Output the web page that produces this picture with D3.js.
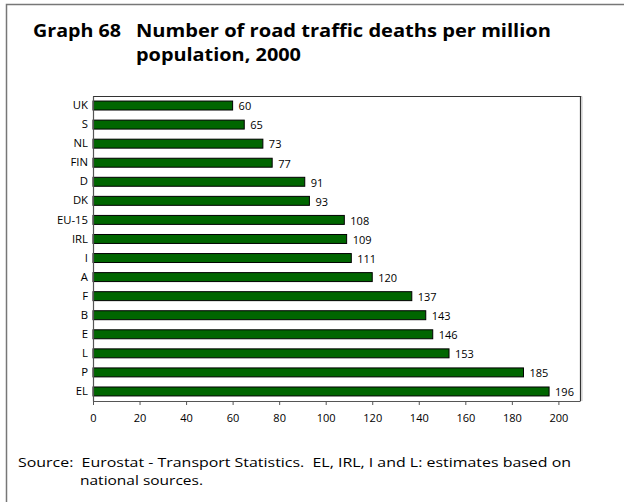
<!DOCTYPE html>
<html>
<head>
<meta charset="utf-8">
<script src="https://cdn.jsdelivr.net/npm/d3@7/dist/d3.min.js"></script>
<style>
  html, body { margin: 0; padding: 0; background: #fff; }
  svg { display: block; }
  text { font-family: "Open Sans", "DejaVu Sans", sans-serif; }
</style>
</head>
<body>
<svg id="chart" width="624" height="502"></svg>
<script>
const categories = ["UK", "S", "NL", "FIN", "D", "DK", "EU-15", "IRL", "I", "A", "F", "B", "E", "L", "P", "EL"];
const values = [60, 65, 73, 77, 91, 93, 108, 109, 111, 120, 137, 143, 146, 153, 185, 196];
const xTicks = [0, 20, 40, 60, 80, 100, 120, 140, 160, 180, 200];
const titleLabel = "Graph 68";
const titleLines = ["Number of road traffic deaths per million", "population, 2000"];
const sourceLines = ["Source:  Eurostat - Transport Statistics.  EL, IRL, I and L: estimates based on", "national sources."];

(function () {
const svg = d3.select("#chart");

// outer frame (cropped at right/bottom)
svg.append("path")
  .attr("d", "M6.5,502 L6.5,4.5 L624,4.5")
  .attr("fill", "none").attr("stroke", "#777").attr("stroke-width", 1.5);

// fit text to a target width
function fit(sel, w) {
  sel.attr("textLength", w).attr("lengthAdjust", "spacingAndGlyphs");
  return sel;
}

// title
fit(svg.append("text").attr("x", 33).attr("y", 37)
  .attr("font-size", 18).attr("font-weight", "bold").attr("fill", "#000")
  .text(titleLabel), 88);
fit(svg.append("text").attr("x", 136).attr("y", 37)
  .attr("font-size", 18).attr("font-weight", "bold").attr("fill", "#000")
  .text(titleLines[0]), 415);
fit(svg.append("text").attr("x", 136).attr("y", 61)
  .attr("font-size", 18).attr("font-weight", "bold").attr("fill", "#000")
  .text(titleLines[1]), 165);

// plot
const pLeft = 93, pRight = 580.5, pTop = 96, pBottom = 401;
const x = d3.scaleLinear().domain([0, 209.5]).range([pLeft, pRight]);
const y = d3.scaleBand().domain(categories).range([pTop, pBottom])
  .paddingInner(0.53).paddingOuter(0.265);

// plot border (top/right) with shadow
svg.append("path")
  .attr("d", `M${pLeft},${pTop + 0.5} L${pRight},${pTop + 0.5} L${pRight},${pBottom}`)
  .attr("fill", "none").attr("stroke", "#c8c8c8").attr("stroke-width", 1)
  .attr("transform", "translate(1.5,0)");
svg.append("path")
  .attr("d", `M${pLeft},${pTop + 0.5} L${pRight},${pTop + 0.5} L${pRight},${pBottom}`)
  .attr("fill", "none").attr("stroke", "#333").attr("stroke-width", 1.2);

// bars
svg.append("g").selectAll("rect").data(categories).join("rect")
  .attr("x", x(0))
  .attr("y", d => y(d))
  .attr("width", (d, i) => x(values[i]) - x(0))
  .attr("height", y.bandwidth())
  .attr("fill", "#006600")
  .attr("stroke", "#000")
  .attr("stroke-width", 1);

// value labels
svg.append("g").selectAll("text").data(categories).join("text")
  .attr("x", (d, i) => x(values[i]) + 6)
  .attr("y", d => y(d) + y.bandwidth() / 2 + 4.8)
  .attr("font-size", 11).attr("fill", "#000")
  .text((d, i) => values[i]);

// y axis
const yAxis = d3.axisLeft(y).tickSize(0).tickPadding(5);
const gy = svg.append("g").attr("transform", `translate(${pLeft},0)`).call(yAxis);
gy.select(".domain").attr("stroke", "#555").attr("stroke-width", 1.2);
gy.selectAll("text").attr("font-size", 11.3).attr("fill", "#000")
  .attr("font-family", "'Open Sans', sans-serif");

// x axis
const xAxis = d3.axisBottom(x).tickValues(xTicks).tickSize(4).tickPadding(9).tickSizeOuter(0);
const gx = svg.append("g").attr("transform", `translate(0,${pBottom})`).call(xAxis);
gx.select(".domain").attr("stroke", "#555").attr("stroke-width", 1.2)
  .attr("d", `M${pLeft},0.5H${pRight}`);
gx.selectAll(".tick line").attr("stroke", "#555");
gx.selectAll("text").attr("font-size", 11).attr("fill", "#000")
  .attr("font-family", "'Open Sans', sans-serif");

// source
fit(svg.append("text").attr("x", 18).attr("y", 466.5)
  .attr("font-size", 13.5).attr("fill", "#000")
  .style("white-space", "pre")
  .text(sourceLines[0]), 553);
fit(svg.append("text").attr("x", 80).attr("y", 485)
  .attr("font-size", 13.5).attr("fill", "#000")
  .text(sourceLines[1]), 123);
})();
</script>
</body>
</html>
